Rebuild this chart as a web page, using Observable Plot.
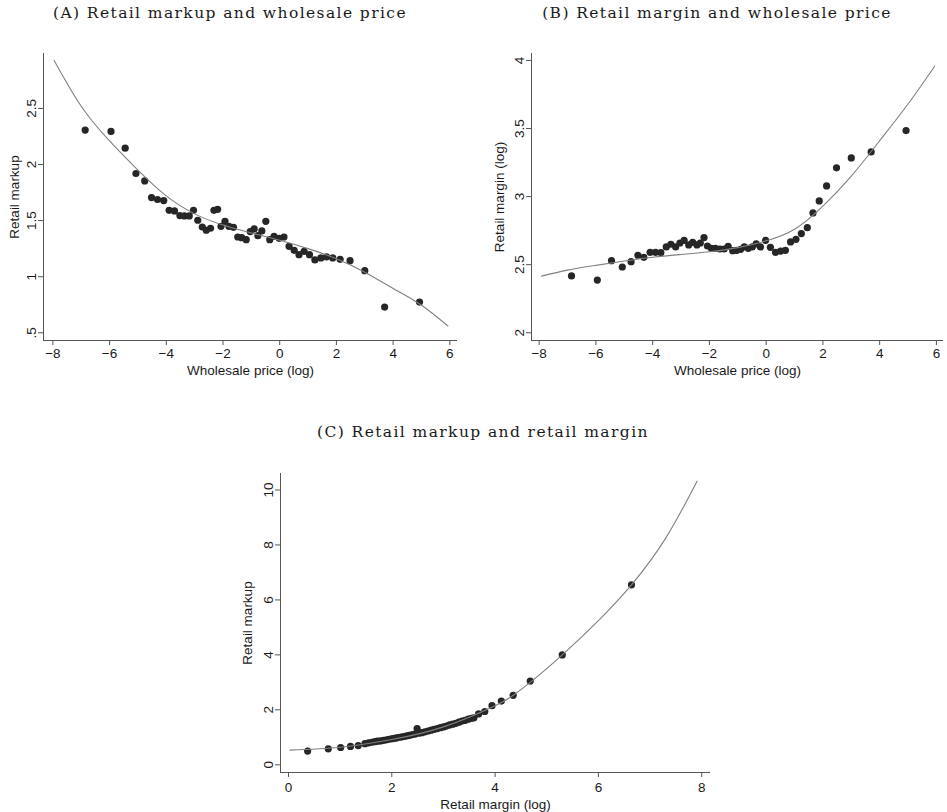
<!DOCTYPE html>
<html>
<head>
<meta charset="utf-8">
<script src="https://cdn.jsdelivr.net/npm/d3@7"></script>
<script src="https://cdn.jsdelivr.net/npm/@observablehq/plot@0.6"></script>
<style>
  body { margin: 0; background: #fff; }
  #page { position: relative; width: 947px; height: 812px; overflow: hidden; background: #fff; }
  .title { position: absolute; font-family: "DejaVu Serif", serif; font-size: 15.5px; letter-spacing: 1.4px;
           color: #1a1a1a; white-space: nowrap; transform: translate(-50%, -50%); }
  .panel { position: absolute; }
</style>
</head>
<body>
<div id="page"></div>
<script>
// Binned wholesale price (log), shared by panels A and B
const wholesalePrice = [-6.86,-5.95,-5.45,-5.07,-4.76,-4.52,-4.31,-4.09,-3.90,-3.71,-3.52,-3.36,-3.19,-3.04,-2.89,-2.73,-2.59,-2.44,-2.32,-2.19,-2.07,-1.93,-1.79,-1.63,-1.48,-1.34,-1.18,-1.04,-0.90,-0.77,-0.63,-0.49,-0.35,-0.20,-0.02,0.15,0.33,0.51,0.68,0.86,1.05,1.24,1.45,1.65,1.87,2.13,2.48,3.00,3.70,4.93];
// Panel A: retail markup per wholesale price bin
const retailMarkupA = [2.307,2.295,2.146,1.920,1.854,1.705,1.688,1.679,1.592,1.586,1.545,1.542,1.542,1.592,1.503,1.443,1.414,1.432,1.592,1.601,1.449,1.494,1.449,1.440,1.354,1.348,1.330,1.402,1.426,1.366,1.408,1.494,1.330,1.360,1.342,1.354,1.271,1.235,1.196,1.226,1.196,1.149,1.167,1.176,1.167,1.155,1.143,1.054,0.729,0.774];
// Panel B: retail margin (log) per wholesale price bin
const retailMarginB = [2.417,2.387,2.529,2.483,2.522,2.569,2.554,2.591,2.591,2.588,2.630,2.650,2.630,2.659,2.679,2.645,2.664,2.645,2.659,2.699,2.637,2.620,2.620,2.615,2.615,2.635,2.603,2.605,2.613,2.630,2.620,2.630,2.652,2.630,2.679,2.627,2.591,2.600,2.605,2.667,2.686,2.728,2.772,2.880,2.968,3.078,3.211,3.284,3.328,3.485];

// Fitted curves, sampled along each panel
const fitAx = [-7.96,-7,-6,-5,-4,-3,-2,-1,0,1,2,3,4,5,5.93];
const fitAy = [2.93,2.52,2.21,1.95,1.72,1.56,1.46,1.39,1.325,1.25,1.16,1.04,0.895,0.745,0.56];
const fitBx = [-7.92,-7,-6,-5,-4,-3,-2,-1,0,1,2,3,4,5,5.94];
const fitBy = [2.416,2.46,2.495,2.527,2.555,2.575,2.595,2.625,2.675,2.76,2.93,3.15,3.41,3.68,3.958];

// Panel C: retail margin (log) bins and their retail markup
const retailMarginC = [0.37,0.77,1.01,1.20,1.35,1.48,
  1.55,1.61,1.67,1.72,1.78,1.84,1.90,1.95,2.01,2.07,2.12,2.18,2.23,2.29,2.34,2.40,2.45,2.49,2.52,2.58,2.64,2.70,2.76,2.82,2.88,2.94,3.00,3.06,3.12,3.18,3.24,3.30,3.36,3.42,3.48,3.54,
  3.59,3.68,3.80,3.94,4.12,4.35,4.68,5.30,6.64];
const retailMarkupC = [0.50,0.58,0.63,0.67,0.70,0.77,
  0.80,0.82,0.84,0.86,0.87,0.89,0.91,0.93,0.95,0.97,0.99,1.01,1.03,1.05,1.07,1.10,1.12,1.32,1.15,1.17,1.20,1.23,1.26,1.29,1.32,1.35,1.38,1.41,1.45,1.48,1.51,1.55,1.59,1.62,1.66,1.69,
  1.71,1.85,1.94,2.15,2.32,2.53,3.05,4.00,6.55];
const fitCx = [0.03,1,2,3,4,4.35,4.68,5.3,6,6.64,7.3,7.91];
const fitCy = [0.534,0.64,0.92,1.38,2.15,2.53,3.0,4.0,5.25,6.55,8.24,10.32];

// Tick values and labels
const xTicksAB = [-8,-6,-4,-2,0,2,4,6];
const yTicksA = [0.5,1,1.5,2,2.5];
const yTickLabelsA = [".5","1","1.5","2","2.5"];
const yTicksB = [2,2.5,3,3.5,4];
const yTickLabelsB = ["2","2.5","3","3.5","4"];
const xTicksC = [0,2,4,6,8];
const yTicksC = [0,2,4,6,8,10];

const titles = ["(A) Retail markup and wholesale price", "(B) Retail margin and wholesale price", "(C) Retail markup and retail margin"];
const xLabels = ["Wholesale price (log)", "Wholesale price (log)", "Retail margin (log)"];
const yLabels = ["Retail markup", "Retail margin (log)", "Retail markup"];

const page = document.getElementById("page");
const zip = (xs, ys) => xs.map((x, i) => ({x, y: ys[i]}));
const FONT = "'Liberation Sans', Arial, sans-serif";

function panel(cfg) {
  const fmt = d => cfg.yTickLabels ? cfg.yTickLabels[cfg.yTicks.indexOf(d)] : String(d);
  const chart = Plot.plot({
    width: cfg.width, height: cfg.height,
    marginLeft: cfg.ml, marginRight: cfg.mr, marginTop: cfg.mt, marginBottom: cfg.mb,
    x: {domain: cfg.xDomain},
    y: {domain: cfg.yDomain},
    style: {fontFamily: FONT, fontSize: "13px", color: "#1a1a1a", background: "transparent", overflow: "visible"},
    marks: [
      Plot.ruleX([cfg.xDomain[0]], {stroke: "#555", strokeWidth: 1}),
      Plot.ruleY([cfg.yDomain[0]], {stroke: "#555", strokeWidth: 1}),
      Plot.axisX(cfg.xTicks, {tickSize: 5, tickPadding: cfg.xPad, stroke: "#555", fill: "#1a1a1a",
        fontSize: 13.5, fontFamily: FONT,
        label: cfg.xLabel, labelAnchor: "center", labelArrow: "none", labelOffset: cfg.xLabelOffset}),
      Plot.axisY(cfg.yTicks, {tickSize: 5, tickPadding: 3, tickRotate: -90, tickFormat: fmt, stroke: "#555", fill: "#1a1a1a",
        fontSize: 13.5, fontFamily: FONT,
        label: cfg.yLabel, labelAnchor: "center", labelArrow: "none", labelOffset: cfg.yLabelOffset}),
      Plot.dot(cfg.points, {x: "x", y: "y", r: 3.6, fill: "#262626", stroke: "none"}),
      Plot.line(cfg.fit, {x: "x", y: "y", stroke: "#808080", strokeWidth: 1.1, curve: "natural"})
    ]
  });
  chart.classList.add("panel");
  chart.style.left = cfg.left + "px";
  chart.style.top = cfg.top + "px";
  page.appendChild(chart);
}

function title(text, cx, cy) {
  const t = document.createElement("div");
  t.className = "title";
  t.textContent = text;
  t.style.left = cx + "px";
  t.style.top = cy + "px";
  page.appendChild(t);
}

panel({left: 0, top: 40, width: 470, height: 345, ml: 43, mr: 13, mt: 13, mb: 45,
  xDomain: [-8.33, 6.27], yDomain: [0.431, 2.99], xTicks: xTicksAB, yTicks: yTicksA, yTickLabels: yTickLabelsA,
  xLabel: xLabels[0], yLabel: yLabels[0], xPad: 3, xLabelOffset: 34, yLabelOffset: 34,
  points: zip(wholesalePrice, retailMarkupA), fit: zip(fitAx, fitAy)});

panel({left: 470, top: 40, width: 477, height: 345, ml: 61, mr: 4, mt: 13, mb: 45,
  xDomain: [-8.27, 6.25], yDomain: [1.943, 4.051], xTicks: xTicksAB, yTicks: yTicksB, yTickLabels: yTickLabelsB,
  xLabel: xLabels[1], yLabel: yLabels[1], xPad: 3, xLabelOffset: 34, yLabelOffset: 37,
  points: zip(wholesalePrice, retailMarginB), fit: zip(fitBx, fitBy)});

panel({left: 230, top: 460, width: 490, height: 352, ml: 50, mr: 10, mt: 13, mb: 40,
  xDomain: [-0.155, 8.17], yDomain: [-0.28, 10.6], xTicks: xTicksC, yTicks: yTicksC, yTickLabels: null,
  xLabel: xLabels[2], yLabel: yLabels[2], xPad: 5, xLabelOffset: 36, yLabelOffset: 38,
  points: zip(retailMarginC, retailMarkupC), fit: zip(fitCx, fitCy)});

title(titles[0], 230, 13);
title(titles[1], 717, 13);
title(titles[2], 483, 432);
</script>
</body>
</html>
